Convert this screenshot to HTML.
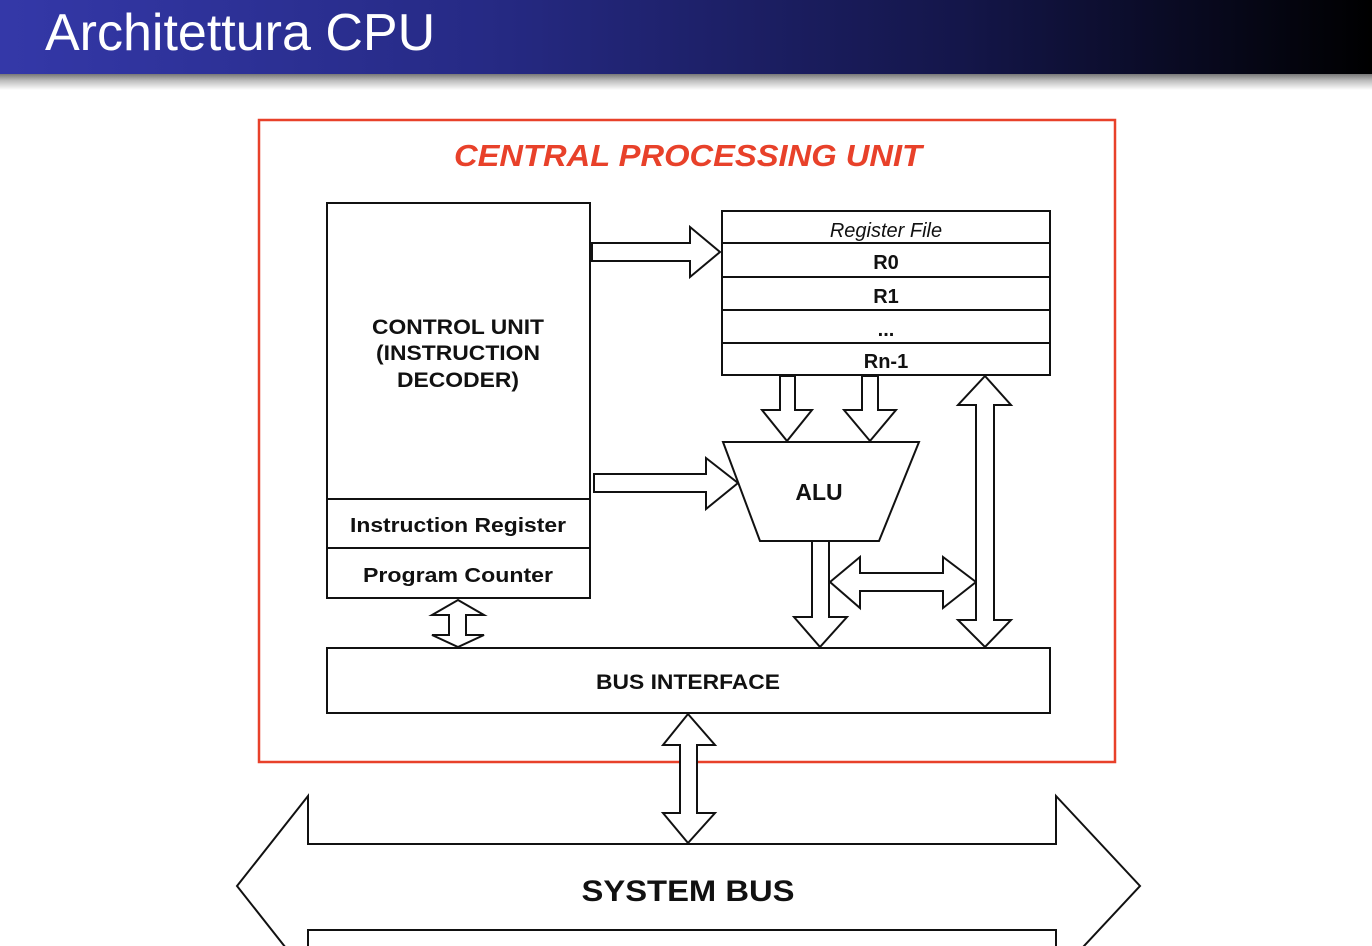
<!DOCTYPE html>
<html><head><style>
html,body{margin:0;padding:0;width:1372px;height:946px;overflow:hidden;background:#fff}
.hdr{position:absolute;left:0;top:0;width:1372px;height:74px;background:linear-gradient(90deg,#3438a8 0%,#262a85 35%,#14164a 70%,#000 100%)}
.sh{position:absolute;left:0;top:74px;width:1372px;height:16px;background:linear-gradient(180deg,#777 0%,#bbb 40%,#fff 100%)}
.ttl{position:absolute;left:45px;top:3px;color:#fff;font:52px "Liberation Sans",sans-serif;letter-spacing:0px}
svg{position:absolute;left:0;top:0}
text{font-family:"Liberation Sans",sans-serif}
</style></head><body>
<div class="hdr"></div><div class="sh"></div>
<div class="ttl">Architettura CPU</div>
<svg width="1372" height="946" viewBox="0 0 1372 946">
<g fill="#fff" stroke="#111" stroke-width="2">
<rect x="259" y="120" width="856" height="642" stroke="#e8412a" stroke-width="2.5"/>
<rect x="327" y="203" width="263" height="395"/>
<line x1="327" y1="499" x2="590" y2="499"/>
<line x1="327" y1="548" x2="590" y2="548"/>
<rect x="722" y="211" width="328" height="164"/>
<line x1="722" y1="243" x2="1050" y2="243"/>
<line x1="722" y1="277" x2="1050" y2="277"/>
<line x1="722" y1="310" x2="1050" y2="310"/>
<line x1="722" y1="343" x2="1050" y2="343"/>
<rect x="327" y="648" width="723" height="65"/>
<polygon points="592,243 690,243 690,227 720,252 690,277 690,261 592,261"/>
<polygon points="594,474 706,474 706,458 738,483 706,509 706,492 594,492"/>
<polygon points="723,442 919,442 879,541 760,541"/>
<polygon points="780,376 795,376 795,410 812,410 787,441 762,410 780,410"/>
<polygon points="862,376 878,376 878,410 896,410 870,441 844,410 862,410"/>
<polygon points="812,541 829,541 829,617 847,617 820,647 794,617 812,617"/>
<polygon points="830,582 860,557 860,573 943,573 943,557 976,582 943,608 943,591 860,591 860,608"/>
<polygon points="985,376 1011,405 994,405 994,620 1011,620 985,647 958,620 976,620 976,405 958,405"/>
<polygon points="458,600 484,615 466,615 466,635 484,635 458,647 432,635 449,635 449,615 432,615"/>
<polygon points="688,714 715,745 697,745 697,813 715,813 688,843 663,813 680,813 680,745 663,745"/>
<polygon points="237,886 308,796 308,844 1056,844 1056,796 1140,886 1056,976 1056,930 308,930 308,976"/>
</g>
<g text-anchor="middle" font-weight="bold" fill="#111">
<text x="688" y="166" font-size="31" font-style="italic" fill="#e8412a" textLength="468" lengthAdjust="spacingAndGlyphs">CENTRAL PROCESSING UNIT</text>
<text x="458" y="334" font-size="21" textLength="172" lengthAdjust="spacingAndGlyphs">CONTROL UNIT</text>
<text x="458" y="360" font-size="21" textLength="164" lengthAdjust="spacingAndGlyphs">(INSTRUCTION</text>
<text x="458" y="387" font-size="21" textLength="122" lengthAdjust="spacingAndGlyphs">DECODER)</text>
<text x="458" y="532" font-size="20" textLength="216" lengthAdjust="spacingAndGlyphs">Instruction Register</text>
<text x="458" y="582" font-size="20" textLength="190" lengthAdjust="spacingAndGlyphs">Program Counter</text>
<text x="886" y="237" font-size="20" font-weight="normal" font-style="italic">Register File</text>
<text x="886" y="269" font-size="20">R0</text>
<text x="886" y="303" font-size="20">R1</text>
<text x="886" y="336" font-size="20">...</text>
<text x="886" y="368" font-size="20">Rn-1</text>
<text x="819" y="500" font-size="23">ALU</text>
<text x="688" y="689" font-size="21" textLength="184" lengthAdjust="spacingAndGlyphs">BUS INTERFACE</text>
<text x="688" y="901" font-size="30" textLength="213" lengthAdjust="spacingAndGlyphs">SYSTEM BUS</text>
</g>
</svg>
</body></html>
